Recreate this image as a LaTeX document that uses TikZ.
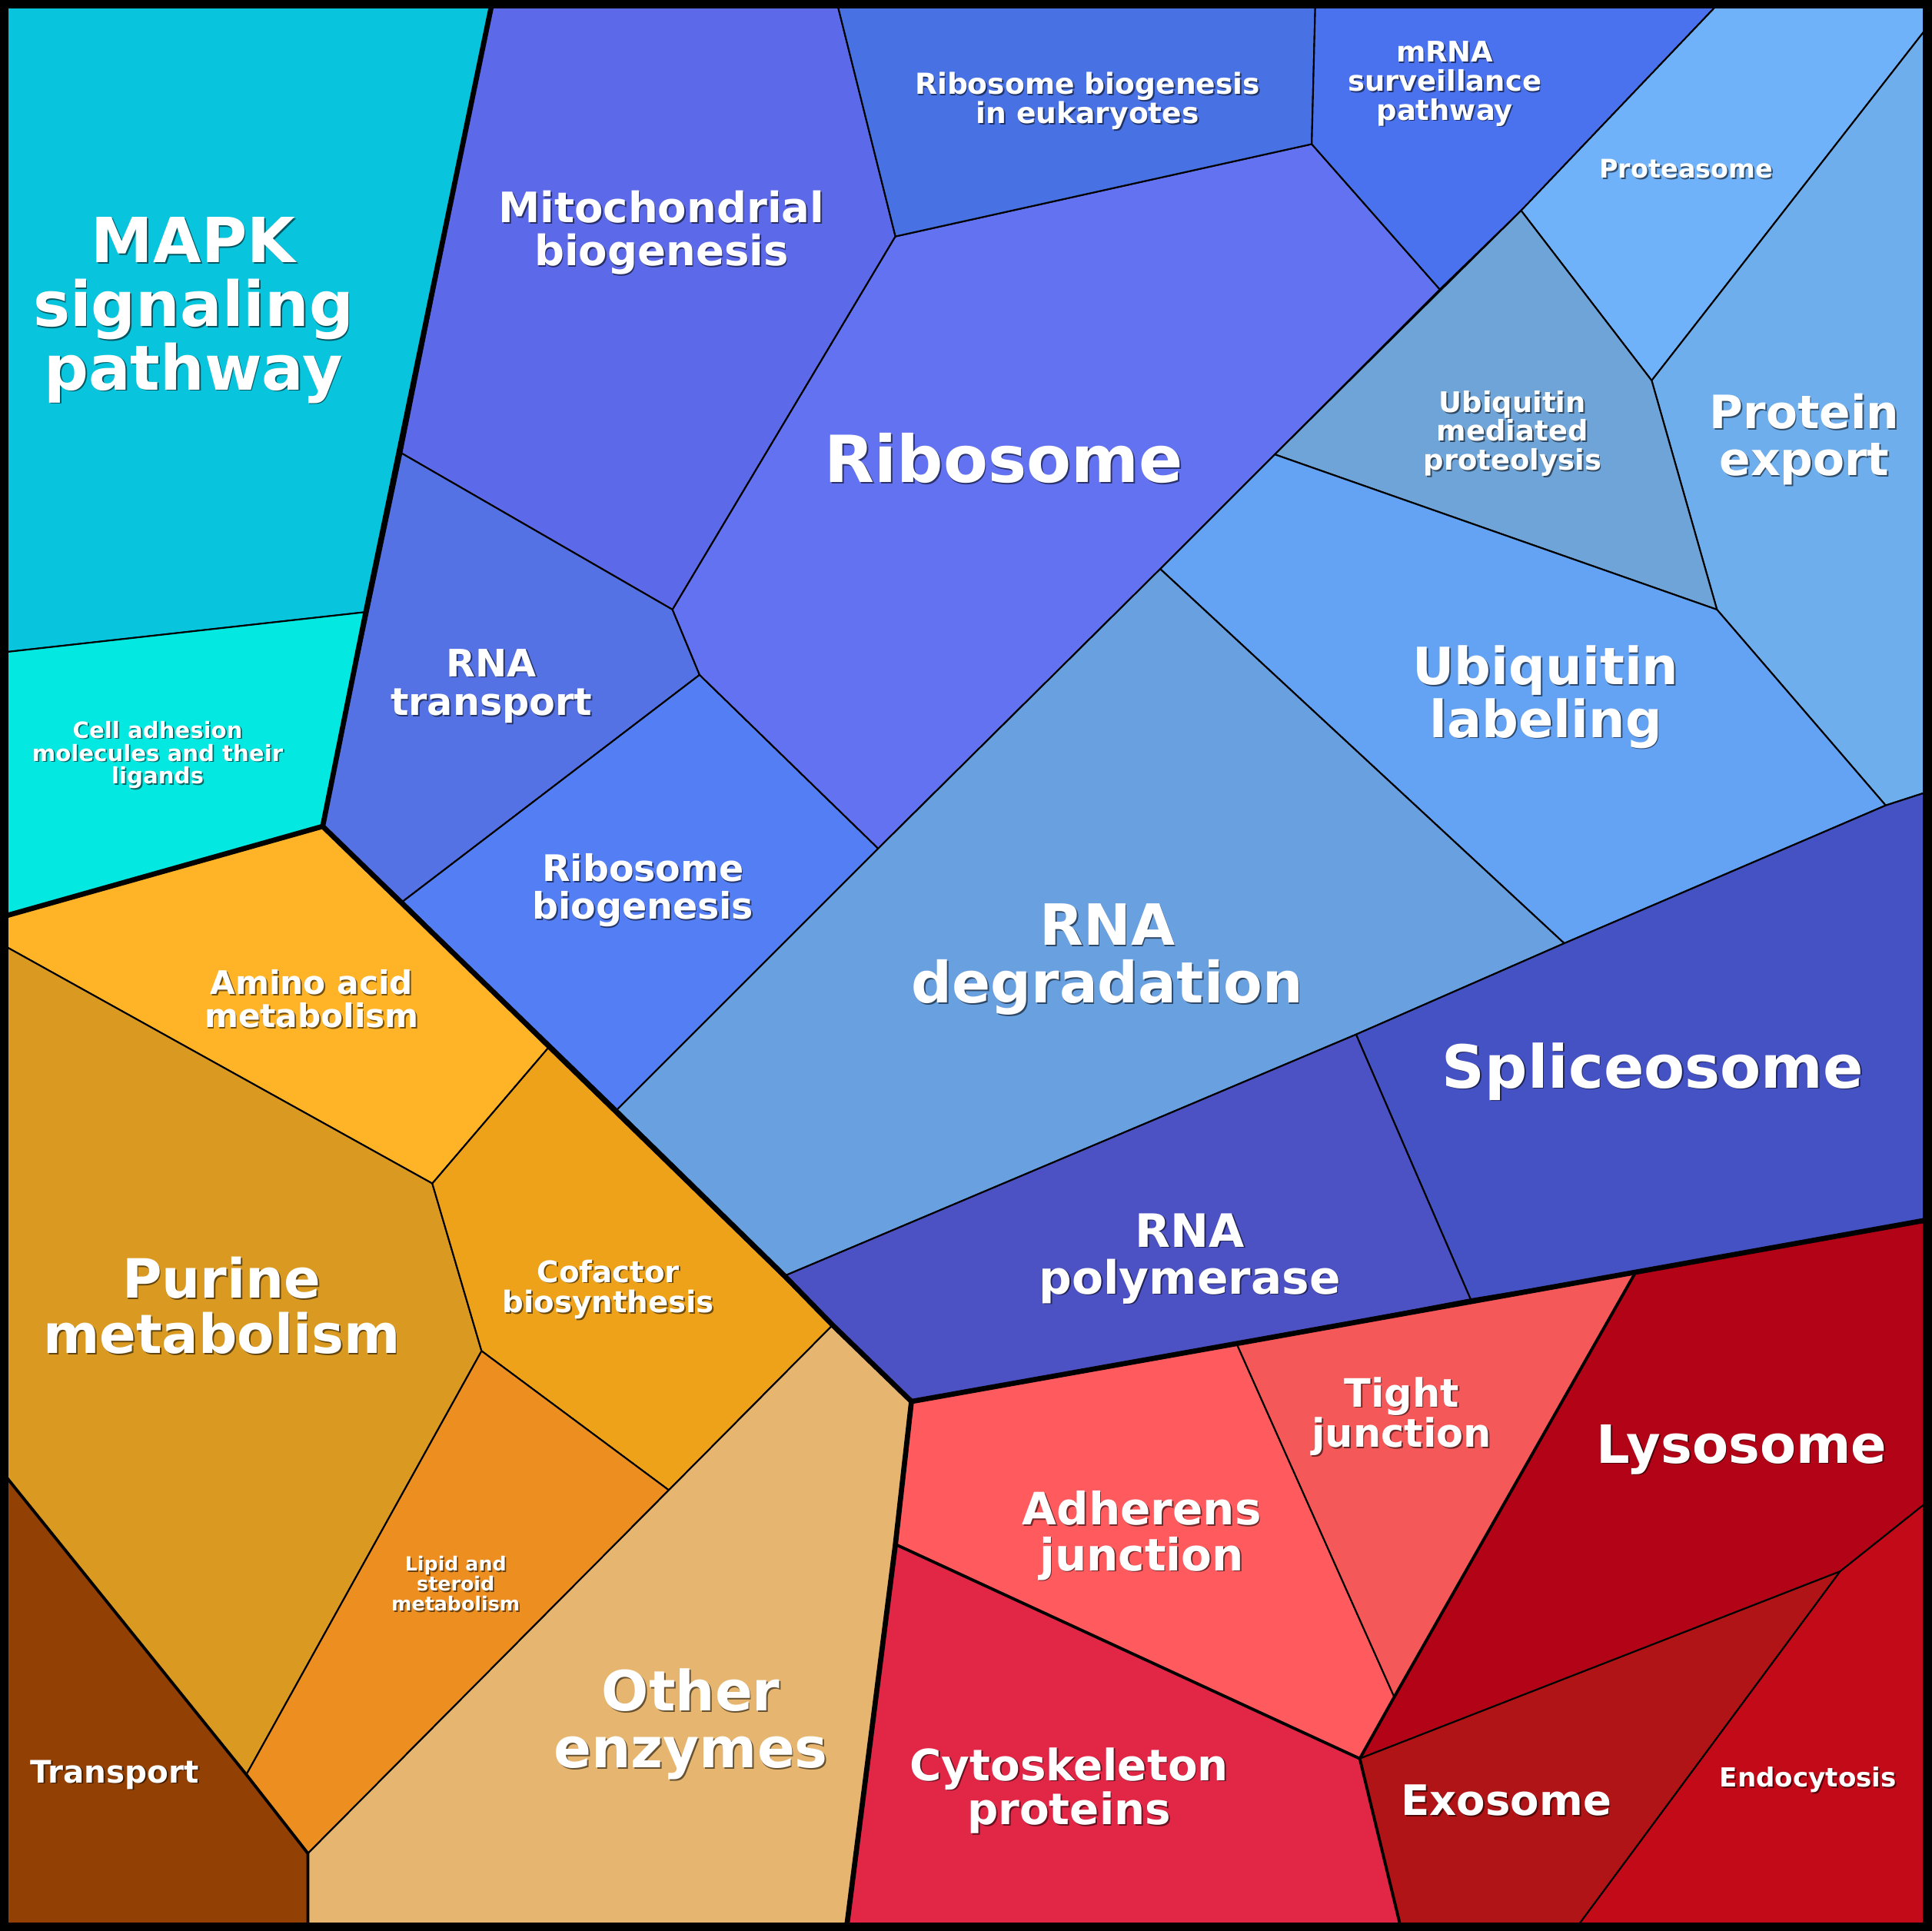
\documentclass[tikz,border=0pt]{standalone}
\usepackage{fontspec}
\setmainfont{DejaVu Sans}
\begin{document}
\begin{tikzpicture}[x=0.016cm,y=-0.016cm,
  cell/.style={draw=black,line width=0.6pt,line join=round},
  thick border/.style={draw=black,line width=1.9pt,line join=round,line cap=round},
  mid border/.style={draw=black,line width=1.1pt,line join=round,line cap=round}]
\newcommand\lbl[4]{%
  \node[text=black,opacity=0.55,align=center,font={\fontsize{#3}{#3}\selectfont\bfseries\setlength\baselineskip{1.02\baselineskip}}] at ([xshift=0.5pt,yshift=-0.5pt]#1) {#4};
  \node[text=white,align=center,font={\fontsize{#3}{#3}\selectfont\bfseries\setlength\baselineskip{1.02\baselineskip}}] (#2) at (#1) {#4};}
\useasboundingbox (0,0) rectangle (1568,1568);
% cyan
\fill[cell,fill={rgb,255:red,8;green,196;blue,220}] (0,0)--(400,0)--(297,497)--(0,530)--cycle;
\fill[cell,fill={rgb,255:red,3;green,232;blue,224}] (0,530)--(297,497)--(262,671)--(0,745)--cycle;
% blue group
\fill[cell,fill={rgb,255:red,92;green,105;blue,232}] (400,0)--(679,0)--(727,192)--(546,495)--(326,368)--cycle;
\fill[cell,fill={rgb,255:red,85;green,114;blue,228}] (326,368)--(546,495)--(568,548)--(327,732)--(262,671)--cycle;
\fill[cell,fill={rgb,255:red,84;green,126;blue,244}] (327,732)--(568,548)--(713,689)--(500,902)--cycle;
\fill[cell,fill={rgb,255:red,98;green,114;blue,240}] (727,192)--(1065,117)--(1169,235)--(1035,369)--(942,462)--(713,689)--(568,548)--(546,495)--cycle;
\fill[cell,fill={rgb,255:red,72;green,114;blue,228}] (679,0)--(1068,0)--(1065,117)--(727,192)--cycle;
\fill[cell,fill={rgb,255:red,74;green,114;blue,238}] (1068,0)--(1398,0)--(1235,171)--(1169,235)--(1065,117)--cycle;
\fill[cell,fill={rgb,255:red,112;green,178;blue,250}] (1398,0)--(1568,0)--(1568,18)--(1341,309)--(1235,171)--cycle;
\fill[cell,fill={rgb,255:red,110;green,174;blue,236}] (1568,18)--(1568,642)--(1531,654)--(1394,495)--(1341,309)--cycle;
\fill[cell,fill={rgb,255:red,110;green,164;blue,216}] (1235,171)--(1341,309)--(1394,495)--(1035,369)--cycle;
\fill[cell,fill={rgb,255:red,100;green,162;blue,244}] (1035,369)--(1394,495)--(1531,654)--(1270,766)--(942,462)--cycle;
\fill[cell,fill={rgb,255:red,104;green,160;blue,224}] (942,462)--(1270,766)--(1101,840)--(637,1036)--(500,902)--(713,689)--cycle;
\fill[cell,fill={rgb,255:red,68;green,82;blue,196}] (1531,654)--(1568,642)--(1568,990)--(1328,1033)--(1194,1055)--(1101,840)--(1270,766)--cycle;
\fill[cell,fill={rgb,255:red,76;green,82;blue,196}] (1101,840)--(1194,1055)--(1004,1091)--(740,1138)--(637,1036)--cycle;
% orange group
\fill[cell,fill={rgb,255:red,255;green,180;blue,40}] (0,745)--(262,671)--(445,851)--(351,961)--(0,766)--cycle;
\fill[cell,fill={rgb,255:red,218;green,154;blue,34}] (0,766)--(351,961)--(391,1097)--(200,1441)--(0,1193)--cycle;
\fill[cell,fill={rgb,255:red,238;green,162;blue,26}] (445,851)--(676,1076)--(543,1210)--(391,1097)--(351,961)--cycle;
\fill[cell,fill={rgb,255:red,236;green,142;blue,32}] (391,1097)--(543,1210)--(250,1505)--(200,1441)--cycle;
\fill[cell,fill={rgb,255:red,146;green,64;blue,4}] (0,1193)--(200,1441)--(250,1505)--(250,1568)--(0,1568)--cycle;
\fill[cell,fill={rgb,255:red,230;green,182;blue,112}] (676,1076)--(740,1138)--(727,1254)--(687,1568)--(250,1568)--(250,1505)--(543,1210)--cycle;
% red group
\fill[cell,fill={rgb,255:red,255;green,90;blue,94}] (740,1138)--(1004,1091)--(1132,1378)--(1104,1428)--(727,1254)--cycle;
\fill[cell,fill={rgb,255:red,244;green,88;blue,88}] (1004,1091)--(1328,1033)--(1132,1378)--cycle;
\fill[cell,fill={rgb,255:red,226;green,38;blue,70}] (727,1254)--(1104,1428)--(1138,1568)--(687,1568)--cycle;
\fill[cell,fill={rgb,255:red,178;green,4;blue,22}] (1328,1033)--(1568,990)--(1568,1217)--(1494,1276)--(1104,1428)--(1132,1378)--cycle;
\fill[cell,fill={rgb,255:red,176;green,20;blue,22}] (1104,1428)--(1494,1276)--(1278,1568)--(1138,1568)--cycle;
\fill[cell,fill={rgb,255:red,194;green,10;blue,24}] (1494,1276)--(1568,1217)--(1568,1568)--(1278,1568)--cycle;
% borders
\draw[thick border] (400,0)--(297,497)--(262,671)--(0,745);
\draw[thick border] (262,671)--(500,902)--(637,1036)--(676,1076)--(740,1138)--(1004,1091)--(1328,1033)--(1568,990);
\draw[thick border] (740,1138)--(727,1254)--(687,1568);
\draw[mid border] (0,1193)--(200,1441)--(250,1505)--(250,1568);
\draw[mid border] (1328,1033)--(1132,1378)--(1104,1428)--(1138,1568);
\draw[mid border] (727,1254)--(1104,1428);
\draw[line width=6pt] (0,0) rectangle (1568,1568);
% labels
\lbl{157,252}{mapk}{23}{MAPK\\signaling\\pathway}
\lbl{128,613}{cam}{8.3}{Cell adhesion\\molecules and their\\ligands}
\lbl{537,189}{mito}{15.5}{Mitochondrial\\biogenesis}
\lbl{815,372}{ribo}{24}{Ribosome}
\lbl{883,82}{rbe}{10.7}{Ribosome biogenesis\\in eukaryotes}
\lbl{1173,68}{mrna}{10.5}{mRNA\\surveillance\\pathway}
\lbl{1369,137}{prot}{9.5}{Proteasome}
\lbl{1465,357}{pexp}{17}{Protein\\export}
\lbl{1228,352}{ump}{10.5}{Ubiquitin\\mediated\\proteolysis}
\lbl{1255,566}{ubl}{19}{Ubiquitin\\labeling}
\lbl{399,557}{rnat}{14}{RNA\\transport}
\lbl{522,723}{rbg}{13.5}{Ribosome\\biogenesis}
\lbl{899,779}{rnad}{21}{RNA\\degradation}
\lbl{1342,870}{spl}{22}{Spliceosome}
\lbl{966,1022}{rnap}{17}{RNA\\polymerase}
\lbl{253,811}{aam}{12}{Amino acid\\metabolism}
\lbl{180,1060}{pur}{20}{Purine\\metabolism}
\lbl{494,1047}{cof}{11}{Cofactor\\biosynthesis}
\lbl{370,1286}{lip}{7.2}{Lipid and\\steroid\\metabolism}
\lbl{93,1441}{tra}{11.5}{Transport}
\lbl{561,1400}{oth}{20.5}{Other\\enzymes}
\lbl{927,1247}{adh}{16.5}{Adherens\\junction}
\lbl{1138,1150}{tj}{14.5}{Tight\\junction}
\lbl{1414,1177}{lys}{19.5}{Lysosome}
\lbl{868,1454}{cyt}{16}{Cytoskeleton\\proteins}
\lbl{1223,1462}{exo}{15.5}{Exosome}
\lbl{1468,1445}{endo}{9.7}{Endocytosis}
\end{tikzpicture}
\end{document}
